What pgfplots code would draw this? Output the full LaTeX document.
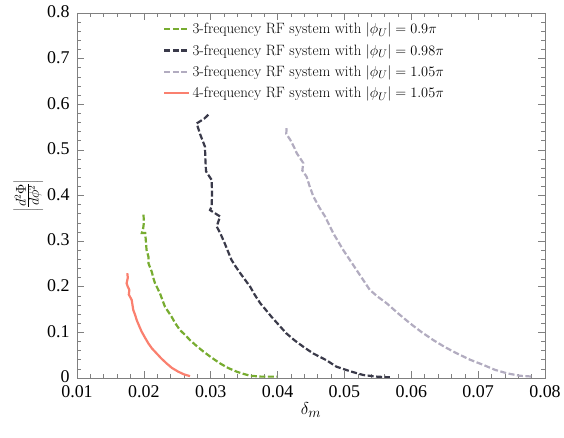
\documentclass[border=0pt]{standalone}
\usepackage{fontspec}
\usepackage{pgfplots}
\pgfplotsset{compat=1.18}
\newfontfamily\tickfont{Liberation Serif}
\definecolor{cgreen}{RGB}{119,172,48}
\definecolor{cdark}{RGB}{58,58,74}
\definecolor{clight}{RGB}{178,172,192}
\definecolor{corange}{RGB}{250,128,111}
\begin{document}
\begin{tikzpicture}
\begin{axis}[
  scale only axis, width=468bp, height=365bp,
  xmin=0.01, xmax=0.08, ymin=0, ymax=0.8,
  xtick={0.01,0.02,0.03,0.04,0.05,0.06,0.07,0.08},
  ytick={0,0.1,0.2,0.3,0.4,0.5,0.6,0.7,0.8},
  minor tick num=4,
  tick align=inside,
  axis line style={gray},
  every tick/.style={gray, line width=0.5pt},
  major tick length=7bp, minor tick length=4bp,
  tick label style={font=\tickfont\fontsize{18}{20}\selectfont, black},
  /pgf/number format/assume math mode=true,
  scaled ticks=false,
  xticklabel style={/pgf/number format/fixed, /pgf/number format/precision=2, yshift=-4bp},
  yticklabel style={/pgf/number format/fixed, /pgf/number format/precision=2, xshift=-4bp, yshift=1bp},
  xlabel={$\delta_m$},
  xlabel style={yshift=2bp},
  ylabel={$\left|\frac{d^2\Phi}{d\phi^2}\right|$},
  ylabel style={yshift=-3bp},
  label style={font=\fontsize{19}{21}\selectfont},
  legend style={at={(0.184,0.978)}, anchor=north west, draw=none, fill=none,
    font=\fontsize{15}{17}\selectfont, inner sep=0pt, row sep=5bp},
  legend cell align=left,
  legend image code/.code={\draw[#1] (0bp,0bp) -- (25bp,0bp);},
  every axis plot/.append style={line width=2.2bp, no markers},
]
\addplot[cgreen, dash pattern=on 6bp off 2.5bp] coordinates {
(0.01995,0.358) (0.02000,0.340) (0.01990,0.328) (0.01970,0.318) (0.02020,0.318)
(0.02030,0.300) (0.02040,0.281) (0.02070,0.265) (0.02070,0.251) (0.02120,0.232)
(0.02140,0.220) (0.02167,0.2076) (0.0224,0.186) (0.0228,0.170) (0.02316,0.156)
(0.02416,0.134) (0.0247,0.120) (0.0254,0.105) (0.0262,0.094) (0.0269,0.083)
(0.0279,0.070) (0.0289,0.058) (0.0301,0.045) (0.0314,0.032) (0.0326,0.022)
(0.0339,0.0138) (0.0349,0.009) (0.0359,0.005) (0.0375,0.003) (0.0399,0.003)};
\addlegendentry{3-frequency RF system with $|\phi_U| = 0.9\pi$}
\addplot[cdark, dash pattern=on 6bp off 2.5bp] coordinates {
(0.02964,0.577) (0.0290,0.568) (0.0279,0.558) (0.0284,0.535) (0.02914,0.507)
(0.0292,0.480) (0.0293,0.453) (0.03014,0.434) (0.0302,0.405) (0.03014,0.376)
(0.0299,0.368) (0.0314,0.354) (0.0309,0.332) (0.0315,0.315) (0.0321,0.295)
(0.0331,0.259) (0.0337,0.245) (0.0344,0.230) (0.0359,0.200) (0.0366,0.182)
(0.0374,0.164) (0.0382,0.150) (0.0391,0.134) (0.0402,0.116) (0.0413,0.098)
(0.0425,0.083) (0.0438,0.069) (0.0453,0.054) (0.0473,0.039) (0.0488,0.0248)
(0.0508,0.015) (0.0528,0.0066) (0.0548,0.003) (0.0568,0.0015)};
\addlegendentry{3-frequency RF system with $|\phi_U| = 0.98\pi$}
\addplot[clight, dash pattern=on 6bp off 2.5bp] coordinates {
(0.04135,0.5475) (0.0413,0.535) (0.0419,0.522) (0.0425,0.505) (0.04286,0.493)
(0.04385,0.471) (0.0437,0.455) (0.04435,0.441) (0.0448,0.420) (0.04535,0.398)
(0.0462,0.375) (0.0471,0.354) (0.04834,0.317) (0.0498,0.281) (0.0508,0.259)
(0.0518,0.237) (0.0528,0.215) (0.0538,0.193) (0.0550,0.178) (0.0563,0.164)
(0.0580,0.142) (0.0598,0.120) (0.0615,0.101) (0.0633,0.083) (0.0650,0.068)
(0.0668,0.054) (0.0688,0.040) (0.0708,0.0285) (0.0725,0.018) (0.0743,0.0103)
(0.0762,0.005) (0.0782,0.003)};
\addlegendentry{3-frequency RF system with $|\phi_U| = 1.05\pi$}
\addplot[corange, solid] coordinates {
(0.01752,0.2296) (0.01760,0.220) (0.01742,0.2076) (0.01760,0.200) (0.01783,0.193)
(0.01775,0.183) (0.01818,0.171) (0.01830,0.160) (0.01842,0.149) (0.01870,0.138)
(0.01893,0.127) (0.01930,0.114) (0.01967,0.1016) (0.02015,0.089) (0.02067,0.076)
(0.0212,0.065) (0.0219,0.054) (0.0226,0.043) (0.0234,0.032) (0.0242,0.022)
(0.02515,0.0138) (0.0260,0.008) (0.0269,0.004)};
\addlegendentry{4-frequency RF system with $|\phi_U| = 1.05\pi$}
\end{axis}
\pgfresetboundingbox
\path[use as bounding box] ([xshift=-77bp,yshift=-60bp]current axis.south west) rectangle ([xshift=19bp,yshift=13bp]current axis.north east);
\end{tikzpicture}
\end{document}
